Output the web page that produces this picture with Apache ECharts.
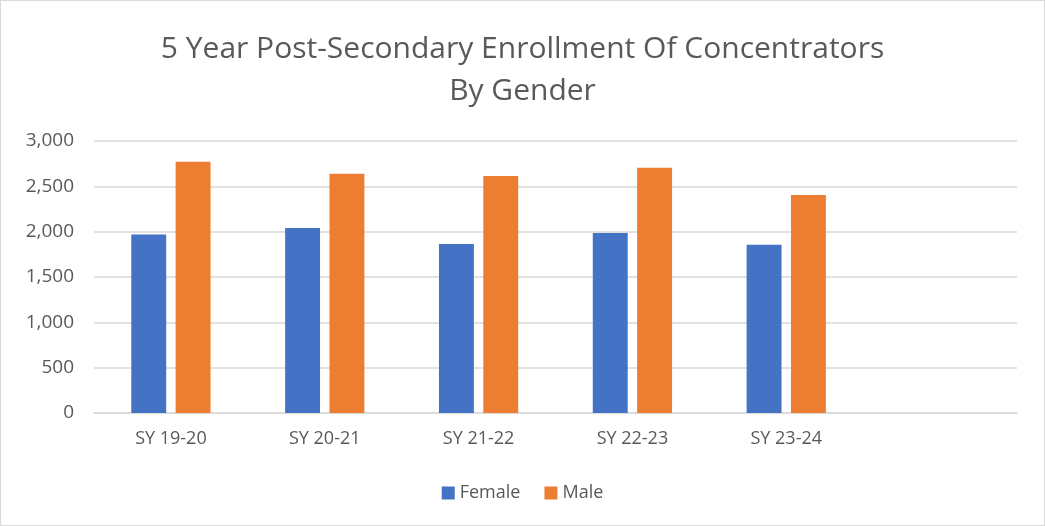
<!DOCTYPE html>
<html>
<head>
<meta charset="utf-8">
<script src="https://cdn.jsdelivr.net/npm/echarts@6/dist/echarts.min.js"></script>
<style>
html,body{margin:0;padding:0;background:#fff;}
#c{width:1045px;height:526px;box-sizing:border-box;border:1px solid #d9d9d9;}
</style>
</head>
<body>
<div id="c"></div>
<script>
var categories = ['SY 19-20', 'SY 20-21', 'SY 21-22', 'SY 22-23', 'SY 23-24', ''];
var female = [1970, 2040, 1865, 1985, 1855, null];
var male = [2770, 2640, 2615, 2705, 2405, null];
var yTicks = [0, 500, 1000, 1500, 2000, 2500, 3000];

var chart = echarts.init(document.getElementById('c'), null, {renderer: 'canvas'});
var font = 'Open Sans';
chart.setOption({
  animation: false,
  title: {
    text: '5 Year Post-Secondary Enrollment Of Concentrators\nBy Gender',
    left: 'center',
    top: 22,
    textStyle: {fontFamily: font, fontWeight: 'normal', fontSize: 30, color: '#595959', lineHeight: 42}
  },
  legend: {
    data: ['Female', 'Male'],
    bottom: 18,
    left: 'center',
    itemWidth: 13,
    itemHeight: 13,
    itemGap: 24,
    icon: 'rect',
    textStyle: {fontFamily: font, fontSize: 18, color: '#595959'}
  },
  grid: {left: 93, right: 27, top: 140, bottom: 112, containLabel: false},
  xAxis: {
    type: 'category',
    data: categories,
    axisLine: {lineStyle: {color: '#d9d9d9', width: 1.5}},
    axisTick: {show: false},
    axisLabel: {fontFamily: font, fontSize: 18, color: '#595959', margin: 17}
  },
  yAxis: {
    type: 'value',
    min: yTicks[0],
    max: yTicks[yTicks.length - 1],
    interval: 500,
    axisLine: {show: false},
    axisTick: {show: false},
    splitLine: {lineStyle: {color: '#d9d9d9', width: 1.5}},
    axisLabel: {
      fontFamily: font, fontSize: 19, color: '#595959', margin: 20,
      formatter: function (v) { return v.toLocaleString('en-US'); }
    }
  },
  series: [
    {name: 'Female', type: 'bar', data: female, barWidth: '22.7%', barGap: '27%',
     itemStyle: {color: '#4472c4'}},
    {name: 'Male', type: 'bar', data: male, barWidth: '22.7%', barGap: '27%',
     itemStyle: {color: '#ed7d31'}}
  ]
});
</script>
</body>
</html>
